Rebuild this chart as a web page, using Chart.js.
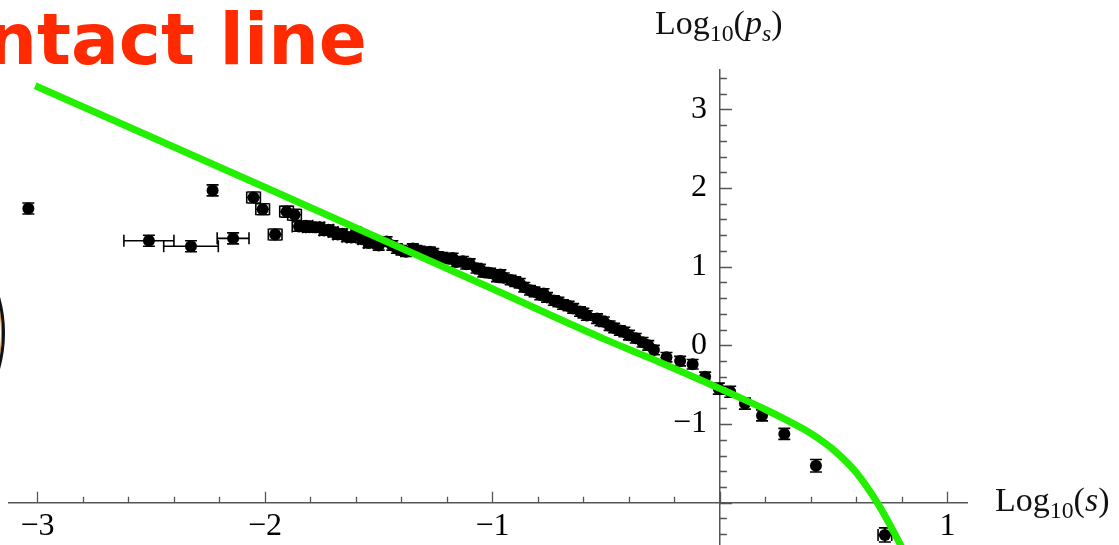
<!DOCTYPE html>
<html>
<head>
<meta charset="utf-8">
<script src="https://cdn.jsdelivr.net/npm/chart.js@4.4.1/dist/chart.umd.min.js"></script>
<style>
  body { margin: 0; background: #fff; overflow: hidden; }
  #wrap { position: relative; width: 1119px; height: 545px; overflow: hidden; }
  #wrap canvas { position: absolute; left: 0; top: 0; }
  .slideTitle { position: absolute; right: 752px; top: 4px; font: bold 71px "DejaVu Sans", sans-serif; line-height: 71px; color: #ff2a00; white-space: nowrap; }
  .ring { position: absolute; left: -261px; top: 200px; width: 266px; height: 266px; box-sizing: border-box; border: 3px solid #111; border-radius: 50%; box-shadow: inset 0 0 0 1px #d08a3a; }
  .axisTitle { position: absolute; font: 34px "Liberation Serif", serif; color: #111; white-space: nowrap; }
  .axisTitle sub { font-size: 70%; vertical-align: -0.3em; line-height: 0; }
</style>
</head>
<body>
<div id="wrap">
  <canvas id="chart" width="1119" height="552"></canvas>
  <div class="slideTitle">Contact line</div>
  <div class="ring"></div>
  <div class="axisTitle" style="left:655px; top:4px;">Log<sub>10</sub>(<i>p<sub>s</sub></i>)</div>
  <div class="axisTitle" style="left:995px; top:481px;">Log<sub>10</sub>(<i>s</i>)</div>
</div>
<script>
// measured points: log10(s), log10(p_s) and their error bars
const ptX = [-3.04, -2.51, -2.325, -2.23, -2.14, -2.05, -2.01, -1.955, -1.905, -1.87,
  -1.85, -1.82, -1.805, -1.79, -1.76, -1.74, -1.72, -1.70, -1.68, -1.66,
  -1.64, -1.62, -1.60, -1.57, -1.545, -1.52, -1.50, -1.465, -1.44, -1.42,
  -1.40, -1.38, -1.35, -1.335, -1.32, -1.29, -1.275, -1.26, -1.24, -1.22,
  -1.19, -1.175, -1.16, -1.13, -1.115, -1.10, -1.07, -1.055, -1.04, -1.01,
  -0.98, -0.965, -0.95, -0.92, -0.90, -0.88, -0.86, -0.835, -0.815, -0.79,
  -0.775, -0.76, -0.73, -0.71, -0.69, -0.665, -0.645, -0.615, -0.60, -0.585,
  -0.54, -0.525, -0.51, -0.485, -0.465, -0.44, -0.42, -0.40, -0.37, -0.34,
  -0.315, -0.29, -0.235, -0.175, -0.12, -0.065, -0.005, 0.045, 0.11, 0.185,
  0.283, 0.422, 0.725];
const ptY = [1.74, 1.33, 1.26, 1.97, 1.36, 1.88, 1.73, 1.41, 1.70, 1.66,
  1.51, 1.52, 1.50, 1.50, 1.50, 1.46, 1.47, 1.44, 1.41, 1.42,
  1.38, 1.37, 1.44, 1.35, 1.30, 1.31, 1.27, 1.32, 1.27, 1.23,
  1.21, 1.19, 1.23, 1.21, 1.20, 1.17, 1.19, 1.17, 1.13, 1.12,
  1.10, 1.11, 1.06, 1.07, 1.03, 1.04, 0.98, 0.97, 0.93, 0.92,
  0.87, 0.90, 0.86, 0.83, 0.81, 0.79, 0.74, 0.70, 0.68, 0.64,
  0.66, 0.61, 0.57, 0.55, 0.52, 0.50, 0.47, 0.43, 0.41, 0.38,
  0.34, 0.31, 0.30, 0.25, 0.22, 0.19, 0.17, 0.13, 0.09, 0.04,
  0.00, -0.06, -0.15, -0.20, -0.24, -0.40, -0.55, -0.59, -0.74, -0.89,
  -1.125, -1.53, -2.41];
const ptYErr = [0.07, 0.07, 0.07, 0.07, 0.07, 0.07, 0.07, 0.07, 0.07, 0.07,
  0.06, 0.06, 0.06, 0.06, 0.06, 0.06, 0.06, 0.06, 0.06, 0.06,
  0.06, 0.06, 0.06, 0.06, 0.06, 0.06, 0.06, 0.06, 0.06, 0.06,
  0.06, 0.06, 0.06, 0.06, 0.06, 0.06, 0.06, 0.06, 0.06, 0.06,
  0.06, 0.06, 0.06, 0.06, 0.06, 0.06, 0.06, 0.06, 0.06, 0.06,
  0.06, 0.06, 0.06, 0.06, 0.06, 0.06, 0.06, 0.06, 0.06, 0.06,
  0.06, 0.06, 0.06, 0.06, 0.06, 0.06, 0.06, 0.06, 0.06, 0.06,
  0.06, 0.06, 0.06, 0.06, 0.06, 0.06, 0.06, 0.06, 0.06, 0.06,
  0.06, 0.06, 0.06, 0.06, 0.06, 0.06, 0.07, 0.07, 0.07, 0.07,
  0.07, 0.08, 0.09];
const ptXErr = [0, 0.11, 0.12, 0, 0.07, 0.03, 0.03, 0.03, 0.03, 0.03,
  0.03, 0.03, 0.03, 0.03, 0.02, 0.02, 0.02, 0.02, 0.02, 0.02,
  0.02, 0.02, 0.02, 0.02, 0.02, 0, 0, 0, 0, 0,
  0, 0, 0, 0, 0, 0, 0, 0, 0, 0,
  0, 0, 0, 0, 0, 0, 0, 0, 0, 0,
  0, 0, 0, 0, 0, 0, 0, 0, 0, 0,
  0, 0, 0, 0, 0, 0, 0, 0, 0, 0,
  0, 0, 0, 0, 0, 0, 0, 0, 0, 0,
  0, 0, 0, 0, 0, 0, 0, 0, 0, 0,
  0, 0, 0.03];

// fitted curve (green)
const fitX = [-3.01, -2.0, -1.0, -0.5, -0.3, -0.1, 0, 0.1, 0.2, 0.3, 0.4, 0.5, 0.6, 0.7, 0.8, 0.84];
const fitY = [3.30, 2.01, 0.72, 0.07, -0.17, -0.42, -0.55, -0.68, -0.815, -0.96, -1.12, -1.33, -1.62, -2.04, -2.57, -2.80];

const xTickVals = [-3, -2, -1, 1];
const yTickVals = [-1, 0, 1, 2, 3];

function fmt(v) {
    return v < 0 ? '\u2212' + Math.abs(v) : String(v);
}

const errorBars = {
    id: 'errorBars',
    beforeDatasetsDraw(chart) {
        const { ctx, chartArea, scales: { x, y } } = chart;
        const cap = 6;
        ctx.save();
        ctx.beginPath();
        ctx.rect(chartArea.left, chartArea.top, chartArea.width, chartArea.height);
        ctx.clip();
        ctx.strokeStyle = '#000';
        ctx.lineWidth = 1.6;
        ctx.beginPath();
        ptX.forEach((vx, i) => {
            const px = x.getPixelForValue(vx);
            const py = y.getPixelForValue(ptY[i]);
            const top = y.getPixelForValue(ptY[i] + ptYErr[i]);
            const bot = y.getPixelForValue(ptY[i] - ptYErr[i]);
            ctx.moveTo(px, top); ctx.lineTo(px, bot);
            ctx.moveTo(px - cap, top); ctx.lineTo(px + cap, top);
            ctx.moveTo(px - cap, bot); ctx.lineTo(px + cap, bot);
            if (ptXErr[i]) {
                const l = x.getPixelForValue(vx - ptXErr[i]);
                const r = x.getPixelForValue(vx + ptXErr[i]);
                ctx.moveTo(l, py); ctx.lineTo(r, py);
                ctx.moveTo(l, py - cap); ctx.lineTo(l, py + cap);
                ctx.moveTo(r, py - cap); ctx.lineTo(r, py + cap);
            }
        });
        ctx.stroke();
        ctx.restore();
    }
};

// inward tick marks every 0.2, longer on whole numbers
const tickMarks = {
    id: 'tickMarks',
    beforeDatasetsDraw(chart) {
        const { ctx, scales: { x, y } } = chart;
        const ax = x.getPixelForValue(0);
        const ay = y.getPixelForValue(-2);
        ctx.save();
        ctx.strokeStyle = '#555';
        ctx.lineWidth = 1.3;
        ctx.beginPath();
        for (let k = Math.ceil(x.min * 5); k <= Math.floor(x.max * 5); k++) {
            const px = Math.round(x.getPixelForValue(k / 5)) + 0.5;
            const len = k % 5 === 0 ? 11 : 6;
            ctx.moveTo(px, ay); ctx.lineTo(px, ay - len);
        }
        for (let k = Math.ceil(y.min * 5); k <= Math.floor(y.max * 5); k++) {
            const py = Math.round(y.getPixelForValue(k / 5)) + 0.5;
            const len = k % 5 === 0 ? 12 : 7;
            ctx.moveTo(ax, py); ctx.lineTo(ax + len, py);
        }
        ctx.stroke();
        ctx.restore();
    }
};

const tickFont = { family: '"Liberation Serif", serif', size: 32 };

new Chart(document.getElementById('chart'), {
    type: 'scatter',
    data: {
        datasets: [{
            type: 'line',
            data: fitX.map((v, i) => ({ x: v, y: fitY[i] })),
            borderColor: '#22f000',
            borderWidth: 7,
            pointRadius: 0,
            cubicInterpolationMode: 'monotone',
            fill: false
        }, {
            data: ptX.map((v, i) => ({ x: v, y: ptY[i] })),
            pointRadius: 6,
            backgroundColor: '#000',
            borderColor: '#000',
            borderWidth: 0
        }]
    },
    options: {
        responsive: false,
        animation: false,
        devicePixelRatio: 1,
        layout: { padding: { left: 9, right: 152, top: 70, bottom: 0 } },
        plugins: { legend: { display: false }, tooltip: { enabled: false } },
        scales: {
            x: {
                type: 'linear',
                min: -3.125,
                max: 1.086,
                position: { y: -2 },
                afterBuildTicks: s => { s.ticks = xTickVals.map(v => ({ value: v })); },
                grid: { drawOnChartArea: false, drawTicks: false },
                border: { display: true, color: '#555', width: 1.5 },
                ticks: { font: tickFont, color: '#000', padding: 5, autoSkip: false, maxRotation: 0, callback: fmt }
            },
            y: {
                type: 'linear',
                min: -2.55,
                max: 3.5,
                position: { x: 0 },
                afterBuildTicks: s => { s.ticks = yTickVals.map(v => ({ value: v })); },
                afterFit: s => { s.paddingTop = 0; s.paddingBottom = 0; },
                grid: { drawOnChartArea: false, drawTicks: false },
                border: { display: true, color: '#555', width: 1.5 },
                ticks: { font: tickFont, color: '#000', autoSkip: false, callback: v => fmt(v) + '\u2009\u2009' }
            }
        }
    },
    plugins: [tickMarks, errorBars]
});
</script>
</body>
</html>
